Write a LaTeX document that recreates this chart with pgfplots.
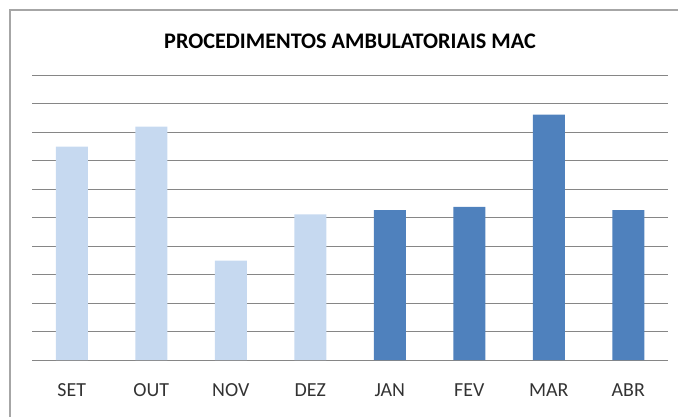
\documentclass[border=0pt]{standalone}
\usepackage{pgfplots}
\pgfplotsset{compat=1.18}
\usepackage{fontspec}
\setmainfont{Carlito}

\definecolor{lightbar}{RGB}{198,217,240}
\definecolor{darkbar}{RGB}{79,129,189}
\definecolor{gridgray}{RGB}{134,134,134}

\begin{document}
\begin{tikzpicture}[x=1bp,y=1bp]
  \path[use as bounding box] (0,0) rectangle (678,417);
  % chart frame (only left and top edges are visible)
  \draw[gray!70, line width=1.5bp] (10,0) -- (10,407) -- (678,407);
  \node[font=\bfseries\fontsize{22.3}{24}\selectfont] at (350,376) {PROCEDIMENTOS AMBULATORIAIS MAC};

  \begin{axis}[
    at={(32bp,57bp)}, anchor=south west,
    scale only axis,
    width=636bp, height=285bp,
    xmin=-0.5, xmax=7.5,
    ymin=0, ymax=10,
    axis line style={draw=none},
    ybar, bar width=32bp, bar shift=0pt,
    ytick={0,1,...,10}, yticklabels={},
    ymajorgrids, grid style={gridgray, line width=0.8bp},
    xtick={0,...,7},
    xticklabels={SET,OUT,NOV,DEZ,JAN,FEV,MAR,ABR},
    major tick length=0pt,
    xticklabel style={anchor=center, yshift=-30bp, font=\fontsize{20}{22}\selectfont, text=black!80},
    clip=false,
  ]
    \addplot[fill=lightbar, draw=none] coordinates {(0,7.49) (1,8.19) (2,3.49) (3,5.11)};
    \addplot[fill=darkbar, draw=none] coordinates {(4,5.26) (5,5.37) (6,8.61) (7,5.26)};
  \end{axis}
\end{tikzpicture}
\end{document}
